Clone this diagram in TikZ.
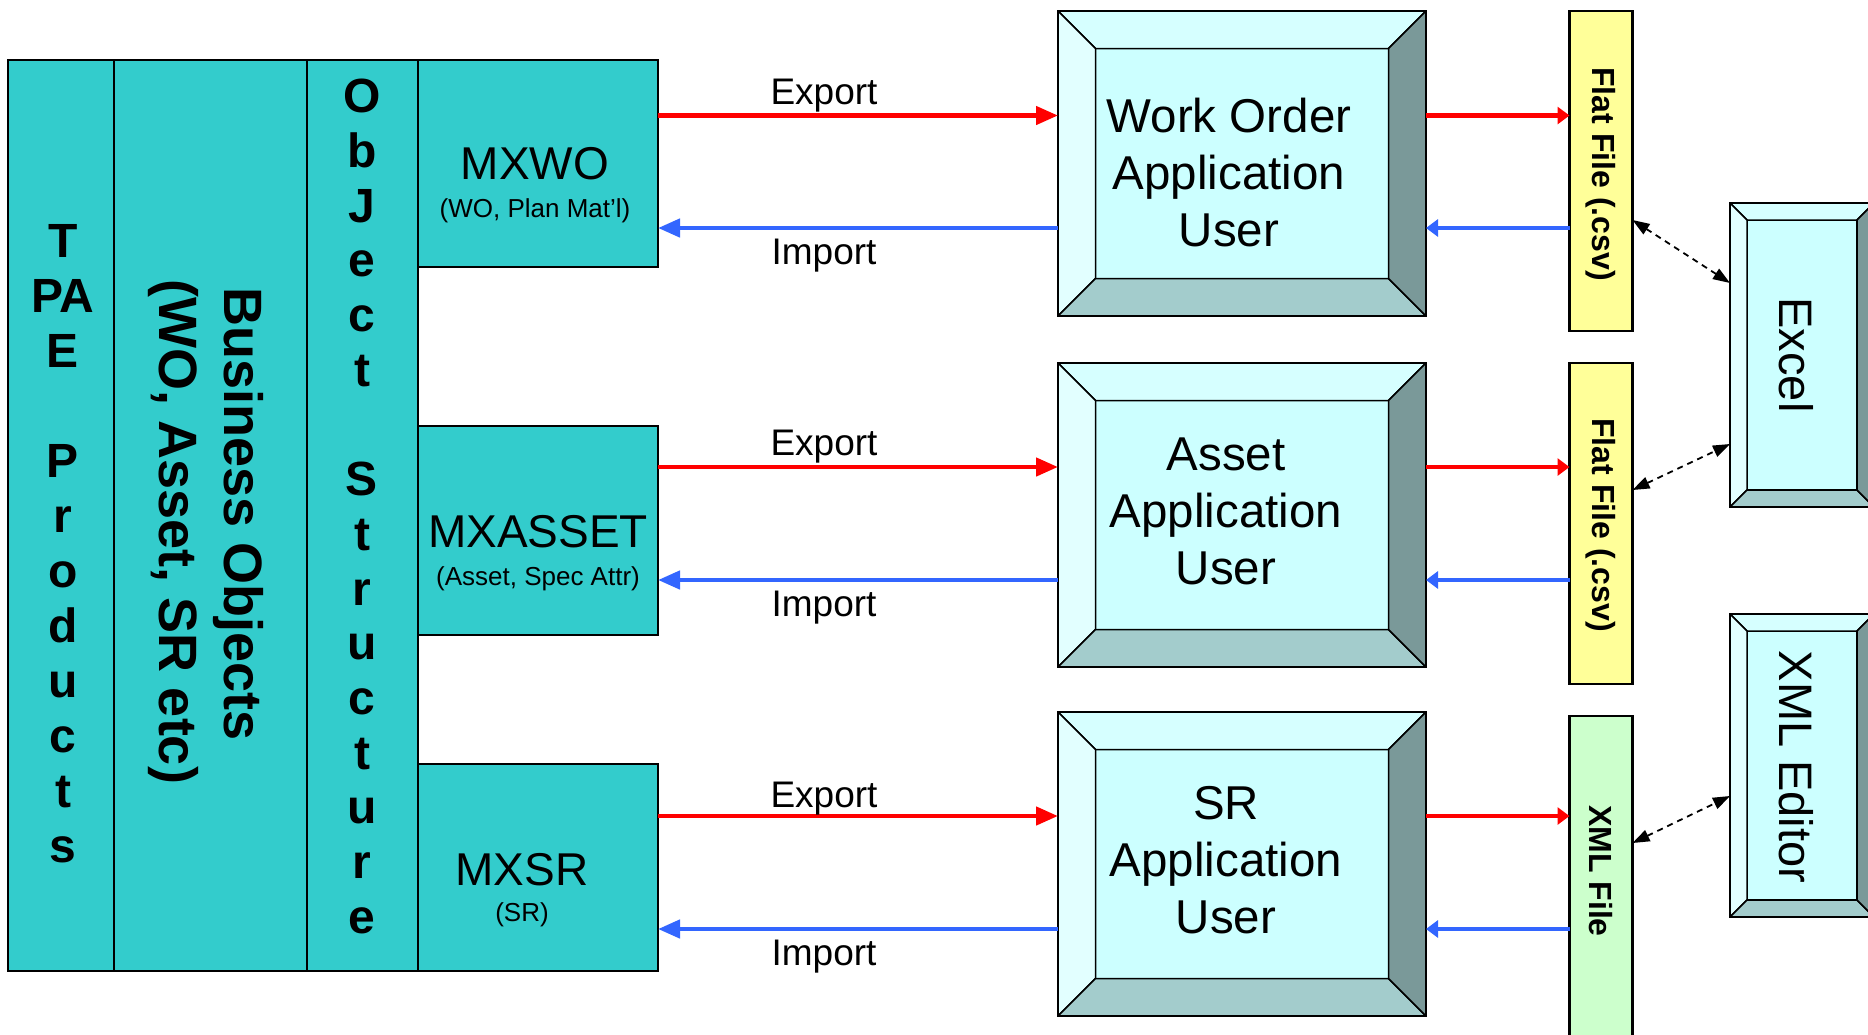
\documentclass[tikz,border=0pt]{standalone}
\usepackage{fontspec}
\setmainfont{Liberation Sans}
\usetikzlibrary{arrows.meta}
\definecolor{teal1}{HTML}{33CCCC}
\definecolor{aqua}{HTML}{CCFFFF}
\definecolor{bvtop}{HTML}{D6FFFF}
\definecolor{bvleft}{HTML}{E2FFFF}
\definecolor{bvbot}{HTML}{A3CCCC}
\definecolor{bvright}{HTML}{7A9999}
\definecolor{fileyel}{HTML}{FFFF99}
\definecolor{filegrn}{HTML}{CCFFCC}
\definecolor{expred}{HTML}{FF0000}
\definecolor{impblue}{HTML}{3366FF}
\newcommand\bevelfaces[2]{%
  \filldraw[face,fill=bvtop] (#1.north west) -- (#1.north east) -- (#2.north east) -- (#2.north west) -- cycle;
  \filldraw[face,fill=bvleft] (#1.north west) -- (#2.north west) -- (#2.south west) -- (#1.south west) -- cycle;
  \filldraw[face,fill=bvbot] (#1.south west) -- (#2.south west) -- (#2.south east) -- (#1.south east) -- cycle;
  \filldraw[face,fill=bvright] (#1.north east) -- (#1.south east) -- (#2.south east) -- (#2.north east) -- cycle;
  \draw[line width=2.5pt] (#1.north west) rectangle (#1.south east);
}
\begin{document}
\begin{tikzpicture}[x=1pt,y=-1pt,
  every node/.style={inner sep=0pt,outer sep=0pt},
  tealbox/.style={rectangle,draw=black,line width=2.5pt,fill=teal1},
  bigbold/.style={font=\fontsize{48}{55}\selectfont\bfseries,align=center},
  busfont/.style={font=\fontsize{54}{65}\selectfont\bfseries,rotate=-90},
  mxtitle/.style={font=\fontsize{46}{52}\selectfont},
  mxsub/.style={font=\fontsize{26}{30}\selectfont},
  flow/.style={font=\fontsize{37}{42}\selectfont},
  apptext/.style={font=\fontsize{47.5}{57}\selectfont,align=center},
  sidetext/.style={font=\fontsize{47}{52}\selectfont,rotate=-90},
  filebox/.style={rectangle,draw=black,line width=2.5pt,minimum width=63pt},
  filetext/.style={font=\fontsize{32}{36}\selectfont\bfseries,rotate=-90},
  outerbev/.style={rectangle,draw=none},
  innerbev/.style={rectangle,draw=black,line width=1.5pt,fill=aqua},
  face/.style={draw=black,line width=1.5pt,line join=round},
  exparrow/.style={draw=expred,line width=4.5pt,-{Triangle[length=22pt,width=18pt]}},
  imparrow/.style={draw=impblue,line width=4.5pt,-{Triangle[length=22pt,width=18pt]}},
  exparrowsm/.style={draw=expred,line width=4.5pt,-{Triangle[length=12pt,width=17pt]}},
  imparrowsm/.style={draw=impblue,line width=4.5pt,-{Triangle[length=12pt,width=17pt]}},
  linkarrow/.style={draw=black,line width=1.8pt,dash pattern=on 6pt off 5pt,{Triangle[length=17pt,width=12pt]}-{Triangle[length=17pt,width=12pt]}},
]
\useasboundingbox (0,0) rectangle (1868,1034);
\fill[white] (0,0) rectangle (1868,1034);

% left structure
\node[tealbox,minimum width=106pt,minimum height=911pt] (tpae) at (61,515.5) {};
\node[tealbox,minimum width=193pt,minimum height=911pt] (bus) at (210.5,515.5) {};
\node[tealbox,minimum width=111pt,minimum height=911pt] (objs) at (362.5,515.5) {};
\node[tealbox,minimum width=240pt,minimum height=207pt] (mxwo) at (538,163.5) {};
\node[tealbox,minimum width=240pt,minimum height=209pt] (mxasset) at (538,530.5) {};
\node[tealbox,minimum width=240pt,minimum height=207pt] (mxsr) at (538,867.5) {};

\node[bigbold] (tpaetxt) at (63,544) {T\\PA\\E\\[55pt]P\\r\\o\\d\\u\\c\\t\\s};
\node[busfont] (bustxt1) at (238,514) {Business Objects};
\node[busfont] (bustxt2) at (173,532) {(WO, Asset, SR etc)};
\node[bigbold,font=\fontsize{48}{54.7}\selectfont\bfseries] (objtxt) at (362,506.5) {O\\b\\J\\e\\c\\t\\[54.7pt]S\\t\\r\\u\\c\\t\\u\\r\\e};

\node[mxtitle] (mxwot) at (535,164) {MXWO};
\node[mxsub] (mxwos) at (535,211) {(WO, Plan Mat’l)};
\node[mxtitle] (mxassett) at (538,532) {MXASSET};
\node[mxsub] (mxassets) at (538,579) {(Asset, Spec Attr)};
\node[mxtitle] (mxsrt) at (522,870) {MXSR};
\node[mxsub] (mxsrs) at (522,915) {(SR)};

% application boxes
\node[outerbev,minimum width=368pt,minimum height=305pt] (wo) at (1242,163.5) {};
\node[innerbev,minimum width=293pt,minimum height=230pt] (woin) at (1242,163.5) {};
\bevelfaces{wo}{woin}
\node[outerbev,minimum width=368pt,minimum height=304pt] (asset) at (1242,515) {};
\node[innerbev,minimum width=293pt,minimum height=229pt] (assetin) at (1242,515) {};
\bevelfaces{asset}{assetin}
\node[outerbev,minimum width=368pt,minimum height=304pt] (sr) at (1242,864) {};
\node[innerbev,minimum width=293pt,minimum height=229pt] (srin) at (1242,864) {};
\bevelfaces{sr}{srin}

\node[apptext] (wotxt) at (1229,173) {Work Order\\Application\\User};
\node[apptext] (assettxt) at (1226,511) {Asset\\Application\\User};
\node[apptext] (srtxt) at (1226,860) {SR\\Application\\User};

% file boxes
\node[filebox,fill=fileyel,minimum height=320pt] (flat1) at (1601,171) {};
\node[filebox,fill=fileyel,minimum height=321pt] (flat2) at (1601,523.5) {};
\node[filebox,fill=filegrn,minimum height=320pt] (xmlf) at (1601,876) {};
\node[filetext] (flat1t) at (1601,174) {Flat File (.csv)};
\node[filetext] (flat2t) at (1601,525) {Flat File (.csv)};
\node[filetext] (xmlft) at (1601,871) {XML File};

% tool boxes
\node[outerbev,minimum width=144pt,minimum height=304pt] (excel) at (1802,355) {};
\node[innerbev,minimum width=110pt,minimum height=270pt] (excelin) at (1802,355) {};
\bevelfaces{excel}{excelin}
\node[outerbev,minimum width=144pt,minimum height=303pt] (xmled) at (1802,765.5) {};
\node[innerbev,minimum width=110pt,minimum height=269pt] (xmledin) at (1802,765.5) {};
\bevelfaces{xmled}{xmledin}
\node[sidetext] (exceltxt) at (1796,355) {Excel};
\node[sidetext] (xmledtxt) at (1796,767) {XML Editor};

% row levels
\coordinate (ra) at (0,115.5);
\coordinate (ba) at (0,228);
\coordinate (rb) at (0,467);
\coordinate (bb) at (0,580);
\coordinate (rc) at (0,816);
\coordinate (bc) at (0,929);
\coordinate (da1) at (0,220);
\coordinate (da2) at (0,283);
\coordinate (db1) at (0,490);
\coordinate (db2) at (0,444);
\coordinate (dc1) at (0,843);
\coordinate (dc2) at (0,796);

% export / import arrows
\draw[exparrow] (mxwo.east |- ra) -- (wo.west |- ra);
\draw[imparrow] (wo.west |- ba) -- (mxwo.east |- ba);
\draw[exparrow] (mxasset.east |- rb) -- (asset.west |- rb);
\draw[imparrow] (asset.west |- bb) -- (mxasset.east |- bb);
\draw[exparrow] (mxsr.east |- rc) -- (sr.west |- rc);
\draw[imparrow] (sr.west |- bc) -- (mxsr.east |- bc);

\draw[exparrowsm] (wo.east |- ra) -- (flat1.west |- ra);
\draw[imparrowsm] (flat1.west |- ba) -- (wo.east |- ba);
\draw[exparrowsm] (asset.east |- rb) -- (flat2.west |- rb);
\draw[imparrowsm] (flat2.west |- bb) -- (asset.east |- bb);
\draw[exparrowsm] (sr.east |- rc) -- (xmlf.west |- rc);
\draw[imparrowsm] (xmlf.west |- bc) -- (sr.east |- bc);

\node[flow] (ex1) at (824,96) {Export};
\node[flow] (im1) at (824,256) {Import};
\node[flow] (ex2) at (824,447) {Export};
\node[flow] (im2) at (824,608) {Import};
\node[flow] (ex3) at (824,799) {Export};
\node[flow] (im3) at (824,957) {Import};

% dashed links
\draw[linkarrow] (flat1.east |- da1) -- (excel.west |- da2);
\draw[linkarrow] (flat2.east |- db1) -- (excel.west |- db2);
\draw[linkarrow] (xmlf.east |- dc1) -- (xmled.west |- dc2);
\end{tikzpicture}
\end{document}
